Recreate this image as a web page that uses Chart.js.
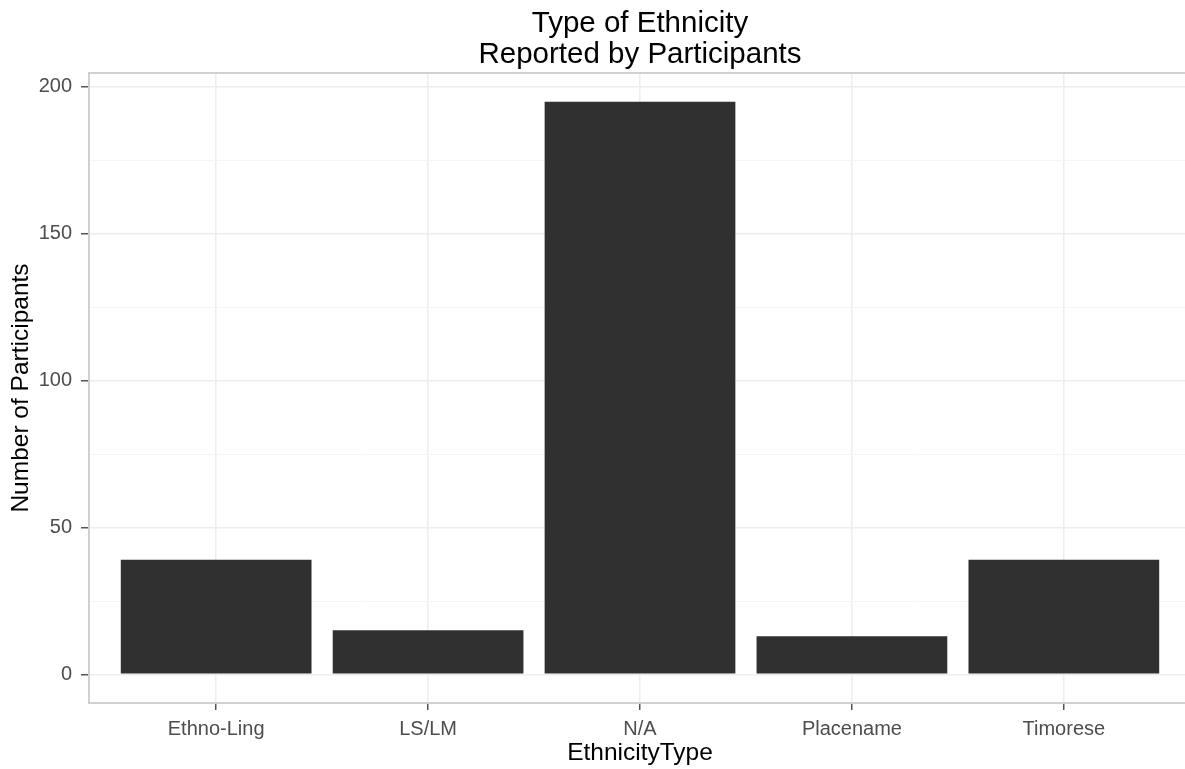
<!DOCTYPE html>
<html>
<head>
<meta charset="utf-8">
<script src="https://cdn.jsdelivr.net/npm/chart.js@4/dist/chart.umd.min.js"></script>
<style>
    html, body { margin: 0; padding: 0; background: #fff; overflow: hidden; }
    #wrap { width: 1200px; height: 769px; position: relative; }
</style>
</head>
<body>
<div id="wrap"><canvas id="myChart"></canvas></div>
<script>
// data
const categories = ['Ethno-Ling', 'LS/LM', 'N/A', 'Placename', 'Timorese'];
const participants = [39, 15, 195, 13, 39];
const yTicks = [0, 50, 100, 150, 200];
const yMinorTicks = [25, 75, 125, 175];
const titleLines = ['Type of Ethnicity', 'Reported by Participants'];

const FONT = 'Liberation Sans, Arial, sans-serif';

// ggplot style panel: minor grid, grey border and a title centred on the panel
const panelPlugin = {
    id: 'panel',
    beforeDatasetsDraw(chart) {
        const { ctx, chartArea, scales } = chart;
        ctx.save();
        ctx.strokeStyle = '#f5f5f5';
        ctx.lineWidth = 1;
        yMinorTicks.forEach(v => {
            const y = Math.round(scales.y.getPixelForValue(v)) + 0.5;
            ctx.beginPath();
            ctx.moveTo(chartArea.left, y);
            ctx.lineTo(chartArea.right, y);
            ctx.stroke();
        });
        ctx.restore();
    },
    afterDraw(chart) {
        const { ctx, chartArea } = chart;
        ctx.save();
        ctx.strokeStyle = '#d0d0d0';
        ctx.lineWidth = 2;
        ctx.strokeRect(chartArea.left, chartArea.top, chartArea.right - chartArea.left, chartArea.bottom - chartArea.top);

        // title
        const cx = (chartArea.left + chartArea.right) / 2;
        ctx.fillStyle = '#000';
        ctx.font = '29.5px ' + FONT;
        ctx.textAlign = 'center';
        ctx.textBaseline = 'alphabetic';
        titleLines.forEach((line, i) => {
            ctx.fillText(line, cx, 32 + i * 31);
        });
        ctx.restore();
    }
};

document.addEventListener('DOMContentLoaded', () => {
    displayChart();
});

function displayChart() {
    const ctx = document.getElementById('myChart').getContext('2d');
    const points = participants.map((v, i) => ({ x: i, y: v }));

    new Chart(ctx, {
        type: 'bar',
        data: {
            datasets: [{
                label: 'Number of Participants',
                data: points,
                backgroundColor: '#303030',
                borderWidth: 0,
                categoryPercentage: 1,
                barPercentage: 0.9
            }]
        },
        plugins: [panelPlugin],
        options: {
            responsive: true,
            maintainAspectRatio: false,
            animation: false,
            layout: { padding: { left: 0, right: 9, top: 73, bottom: 0 } },
            plugins: {
                legend: { display: false },
                tooltip: { enabled: false },
                title: { display: false }
            },
            scales: {
                x: {
                    type: 'linear',
                    min: -0.6,
                    max: categories.length - 0.4,
                    offset: false,
                    afterBuildTicks: scale => {
                        scale.ticks = categories.map((c, i) => ({ value: i }));
                    },
                    afterFit: scale => { scale.height = 66; },
                    ticks: {
                        callback: value => categories[value],
                        color: '#4d4d4d',
                        font: { family: FONT, size: 20 },
                        padding: 7,
                        maxRotation: 0,
                        autoSkip: false
                    },
                    grid: {
                        offset: false,
                        color: '#ededed',
                        lineWidth: 1.5,
                        tickColor: '#555',
                        tickLength: 7
                    },
                    border: { display: false },
                    title: {
                        display: true,
                        text: 'EthnicityType',
                        color: '#000',
                        font: { family: FONT, size: 24.5 },
                        padding: { top: 0, bottom: 1 }
                    }
                },
                y: {
                    min: -9.75,
                    max: 204.75,
                    afterBuildTicks: scale => {
                        scale.ticks = yTicks.map(v => ({ value: v }));
                    },
                    afterFit: scale => { scale.width = 89; },
                    ticks: {
                        color: '#4d4d4d',
                        font: { family: FONT, size: 20 },
                        padding: 9
                    },
                    grid: {
                        color: '#ededed',
                        lineWidth: 1.5,
                        tickColor: '#555',
                        tickLength: 8
                    },
                    border: { display: false },
                    title: {
                        display: true,
                        text: 'Number of Participants',
                        color: '#000',
                        font: { family: FONT, size: 24.5 },
                        padding: { top: 7, bottom: 0 }
                    }
                }
            }
        }
    });
}
</script>
</body>
</html>
